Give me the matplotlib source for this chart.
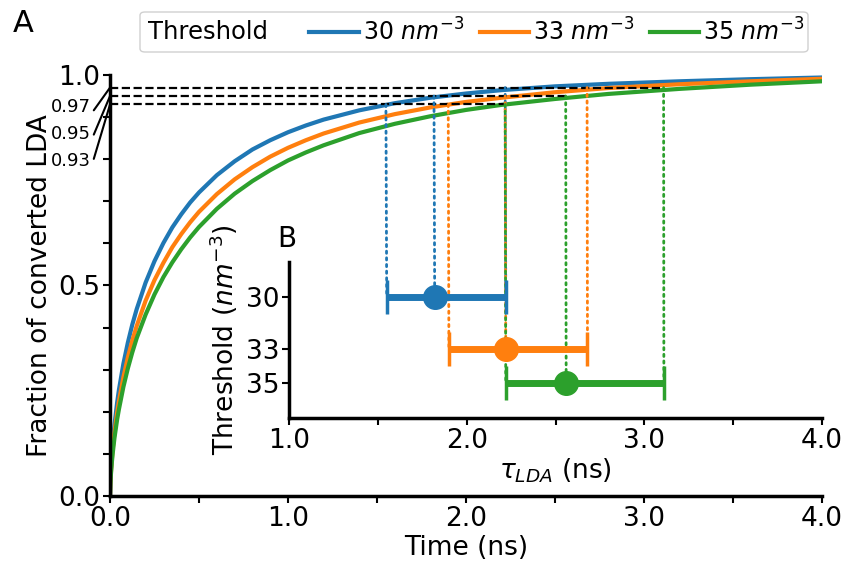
import matplotlib
matplotlib.use("Agg")
import matplotlib.pyplot as plt
from matplotlib.patches import ConnectionPatch, FancyBboxPatch
from matplotlib.ticker import MultipleLocator, FormatStrFormatter

# panel A: fraction of converted LDA vs time
time_ns = [0.0, 0.002, 0.005, 0.01, 0.015, 0.025, 0.04, 0.05, 0.075, 0.1, 0.125, 0.15,
           0.2, 0.25, 0.3, 0.35, 0.4, 0.45, 0.5, 0.6, 0.7, 0.8, 0.9, 1.0,
           1.1, 1.2, 1.4, 1.6, 1.8, 2.0, 2.2, 2.5, 2.8, 3.2, 3.6, 4.0]
frac_30 = [0.0, 0.036, 0.064, 0.098, 0.125, 0.169, 0.222, 0.252, 0.314, 0.364, 0.407, 0.444,
           0.507, 0.558, 0.601, 0.638, 0.669, 0.697, 0.721, 0.762, 0.795, 0.823, 0.845, 0.864,
           0.880, 0.894, 0.916, 0.933, 0.946, 0.956, 0.964, 0.973, 0.979, 0.985, 0.990, 0.994]
frac_33 = [0.0, 0.032, 0.056, 0.086, 0.111, 0.151, 0.198, 0.225, 0.282, 0.329, 0.369, 0.404,
           0.464, 0.513, 0.554, 0.591, 0.622, 0.650, 0.675, 0.717, 0.752, 0.781, 0.806, 0.827,
           0.845, 0.861, 0.887, 0.907, 0.923, 0.936, 0.946, 0.959, 0.969, 0.978, 0.985, 0.991]
frac_35 = [0.0, 0.029, 0.051, 0.079, 0.101, 0.138, 0.182, 0.206, 0.259, 0.303, 0.341, 0.375,
           0.431, 0.479, 0.520, 0.555, 0.586, 0.614, 0.639, 0.682, 0.718, 0.748, 0.774, 0.797,
           0.816, 0.833, 0.862, 0.884, 0.902, 0.917, 0.929, 0.943, 0.955, 0.967, 0.977, 0.985]

# panel B: tau_LDA per threshold (time to reach 0.93 / 0.95 / 0.97)
thresholds = [30, 33, 35]
tau_93 = [1.55, 1.90, 2.22]
tau_95 = [1.82, 2.22, 2.56]
tau_97 = [2.22, 2.68, 3.11]
levels = [0.93, 0.95, 0.97]

legend_labels = ["30 $nm^{-3}$", "33 $nm^{-3}$", "35 $nm^{-3}$"]
colors = ["#1f77b4", "#ff7f0e", "#2ca02c"]

FS = 19

fig = plt.figure(figsize=(8.47, 5.65), dpi=100)
ax = fig.add_axes([0.1299, 0.1221, 0.8406, 0.7452])
axin = fig.add_axes([0.3412, 0.2602, 0.6293, 0.2761])
axin.patch.set_alpha(0)

lines = []
for frac, c in zip([frac_30, frac_33, frac_35], colors):
    l, = ax.plot(time_ns, frac, color=c, lw=3, zorder=2, solid_joinstyle="round")
    lines.append(l)

# dashed reference levels, out to the slowest threshold
level_end = [max(tau_93), max(tau_95), max(tau_97)]
ax.hlines(levels, 0, level_end, colors="k", linestyles="--", lw=1.6, zorder=3)

ax.set_xlim(0, 4)
ax.set_ylim(0, 1.0)
ax.xaxis.set_major_locator(MultipleLocator(1.0))
ax.xaxis.set_minor_locator(MultipleLocator(0.5))
ax.xaxis.set_major_formatter(FormatStrFormatter("%.1f"))
ax.yaxis.set_major_locator(MultipleLocator(0.5))
ax.yaxis.set_minor_locator(MultipleLocator(0.1))
ax.yaxis.set_major_formatter(FormatStrFormatter("%.1f"))
ax.set_xlabel("Time (ns)", fontsize=FS, labelpad=2)
ax.set_ylabel("Fraction of converted LDA", fontsize=FS)

for a in [ax, axin]:
    for s in ["top", "right"]:
        a.spines[s].set_visible(False)
    for s in ["left", "bottom"]:
        a.spines[s].set_linewidth(2.5)
    a.tick_params(which="both", width=1.5, length=5, labelsize=FS, pad=2)

# labels for the three levels
label_y = [161, 134, 107]
for lev, py in zip(levels, label_y):
    ax.annotate("%.2f" % lev, xy=(0, lev), xycoords="data",
                xytext=(91 / 847, 1 - py / 565), textcoords="figure fraction",
                ha="right", va="center", fontsize=13, annotation_clip=False,
                arrowprops=dict(arrowstyle="-", lw=1.5, color="k", shrinkA=0, shrinkB=0,
                                relpos=(1, 0.1)))

# inset B
for i in range(3):
    xerr = [[tau_95[i] - tau_93[i]], [tau_97[i] - tau_95[i]]]
    axin.errorbar([tau_95[i]], [thresholds[i]], xerr=xerr, fmt="o", color=colors[i],
                  ms=17, elinewidth=5, capsize=12, capthick=2.5, zorder=4)
    for t, lev in zip([tau_93[i], tau_95[i], tau_97[i]], [0.93, 0.95, 0.97]):
        con = ConnectionPatch(xyA=(t, lev), coordsA=ax.transData,
                              xyB=(t, thresholds[i]), coordsB=axin.transData,
                              linestyle=(0, (0.8, 1.6)), color=colors[i], lw=2, zorder=1)
        axin.add_artist(con)
        con.set_clip_on(False)

axin.set_xlim(1, 4)
axin.set_ylim(37, 28)
axin.set_yticks(thresholds)
axin.xaxis.set_major_locator(MultipleLocator(1.0))
axin.xaxis.set_minor_locator(MultipleLocator(0.5))
axin.xaxis.set_major_formatter(FormatStrFormatter("%.1f"))
axin.set_xlabel(r"$\tau_{LDA}$ (ns)", fontsize=FS, labelpad=2)
axin.set_ylabel("Threshold ($nm^{-3}$)", fontsize=FS)

# legend strip on top
box = FancyBboxPatch((140 / 847, 1 - 52 / 565), 668 / 847, 40 / 565,
                     boxstyle="round,pad=0,rounding_size=0.006", transform=fig.transFigure,
                     facecolor="white", edgecolor="#d0d0d0", lw=1)
fig.add_artist(box)
fig.text(148 / 847, 1 - 32 / 565, "Threshold", fontsize=17.5, va="center")
fig.legend(lines, legend_labels, ncol=3, frameon=False, fontsize=17,
           loc="center left", bbox_to_anchor=(300 / 847, 1 - 32 / 565), borderaxespad=0,
           handlelength=2.1, handletextpad=0.15, columnspacing=0.65)

fig.text(13 / 847, 1 - 32 / 565, "A", fontsize=22)
fig.text(277 / 847, 1 - 247 / 565, "B", fontsize=20)

fig.savefig("out.png", dpi=100)
